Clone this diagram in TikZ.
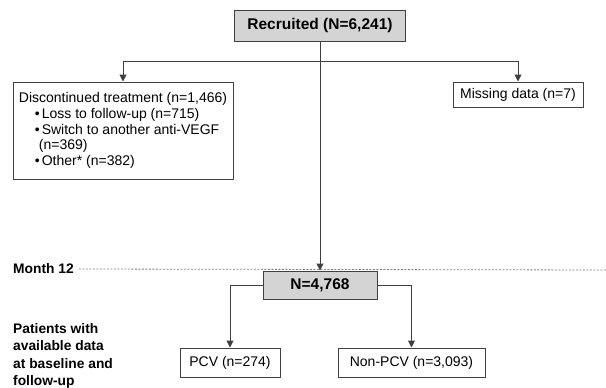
\documentclass[tikz,border=0pt]{standalone}
\usepackage{fontspec}
\setmainfont{Liberation Sans}
\usetikzlibrary{arrows.meta,positioning}

\begin{document}
\begin{tikzpicture}[x=1pt,y=-1pt,
    box/.style={draw=black!75, line width=1pt, inner sep=0pt, font=\fontsize{14}{15.6}\selectfont},
    headbox/.style={box, fill=black!17, font=\bfseries\fontsize{15.5}{18}\selectfont},
    conn/.style={draw=black!75, line width=1pt},
    arr/.style={conn, -{Triangle[width=7pt,length=7pt]}},
    dashline/.style={draw=black!50, line width=0.8pt, dash pattern=on 2pt off 1.5pt},
    sidelabel/.style={font=\bfseries\fontsize{13.8}{17.3}\selectfont, align=left, inner sep=0pt, anchor=west}]
  \useasboundingbox (0,0) rectangle (606,388);
  \node[headbox, minimum width=171pt, minimum height=31pt] (rec) at (320,25.5) {Recruited (N=6,241)};
  \node[box, minimum width=220pt, minimum height=97pt, align=left] (disc) at (123,130.5)
    {Discontinued treatment (n=1,466)\\
     \hspace*{16pt}•\hspace{2pt}Loss to follow-up (n=715)\\
     \hspace*{16pt}•\hspace{2pt}Switch to another anti-VEGF\\
     \hspace*{20pt}(n=369)\\
     \hspace*{16pt}•\hspace{2pt}Other* (n=382)};
  \node[box, minimum width=130pt, minimum height=25pt] (miss) at (518,94.5) {Missing data (n=7)};
  \node[sidelabel] (month) at (13,269) {Month 12};
  \coordinate (dashend) at (606,270);
  \draw[dashline] ([xshift=5pt]month.east) -- (dashend);
  \node[headbox, minimum width=114pt, minimum height=28pt] (total) at (320,285) {N=4,768};
  \node[box, minimum width=100pt, minimum height=29pt] (pcv) at (230,362.5) {PCV (n=274)};
  \node[box, minimum width=147pt, minimum height=29pt] (nonpcv) at (411.5,362.5) {Non-PCV (n=3,093)};
  \node[sidelabel] (avail) at (13,356) {Patients with\\available data\\at baseline and\\follow-up};
  \coordinate (split) at (320,61);
  \draw[arr] (rec) -- (total);
  \draw[arr] (split) -| (disc);
  \draw[arr] (split) -| (miss);
  \draw[arr] (total.west) -| (pcv);
  \draw[arr] (total.east) -| (nonpcv);
\end{tikzpicture}
\end{document}
